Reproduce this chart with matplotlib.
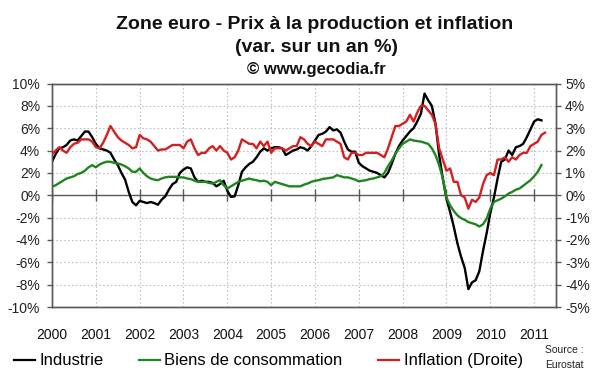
import matplotlib
matplotlib.use('Agg')
import matplotlib.pyplot as plt
import numpy as np
from matplotlib.ticker import FuncFormatter
from matplotlib.lines import Line2D

plt.rcParams['font.family'] = ['Liberation Sans', 'DejaVu Sans']

# ---- data (monthly, from Jan 2000) ----
industrie = [
    3.0, 3.7, 4.2, 4.3, 4.5, 4.9, 5.0, 4.9, 5.3, 5.7, 5.7, 5.2,
    4.6, 4.2, 4.1, 4.0, 3.8, 3.2, 2.7, 2.0, 1.4, 0.3, -0.6, -0.9,
    -0.5, -0.6, -0.7, -0.6, -0.7, -0.85, -0.4, -0.1, 0.5, 1.0, 1.2, 2.0,
    2.3, 2.5, 2.4, 1.6, 1.2, 1.3, 1.2, 1.2, 1.1, 0.8, 1.0, 1.3,
    0.4, -0.15, -0.1, 0.9, 2.1, 2.5, 2.8, 3.0, 3.4, 3.9, 4.2, 4.0,
    4.2, 4.3, 4.3, 4.2, 3.6, 3.8, 4.0, 4.1, 4.3, 4.2, 4.0, 4.4,
    4.9, 5.4, 5.5, 5.7, 6.1, 5.8, 5.9, 5.6, 4.8, 4.1, 3.9, 3.9,
    2.9, 2.6, 2.4, 2.2, 2.1, 2.0, 1.8, 1.6, 2.0, 2.8, 3.7, 4.4,
    4.9, 5.3, 5.7, 6.0, 6.6, 7.3, 9.1, 8.5, 8.0, 6.4, 3.6, 1.5,
    -0.3, -1.5, -2.8, -4.3, -5.5, -6.5, -8.4, -7.8, -7.6, -6.8, -5.0, -3.4,
    -1.6, -0.2, 1.5, 3.0, 3.2, 4.0, 3.6, 4.3, 4.4, 4.6, 5.2, 5.9,
    6.6, 6.8, 6.7,
]
biens_conso = [
    0.75, 0.9, 1.1, 1.3, 1.5, 1.6, 1.7, 1.9, 2.0, 2.2, 2.5, 2.7,
    2.5, 2.75, 2.9, 3.0, 3.0, 2.9, 2.85, 2.75, 2.6, 2.4, 2.1, 2.1,
    2.4, 2.0, 1.7, 1.5, 1.4, 1.35, 1.5, 1.6, 1.65, 1.65, 1.65, 1.6,
    1.6, 1.5, 1.45, 1.3, 1.2, 1.2, 1.2, 1.1, 1.05, 1.2, 1.35, 0.9,
    0.6, 0.8, 1.0, 1.2, 1.3, 1.4, 1.5, 1.4, 1.35, 1.25, 1.3, 1.2,
    0.9, 1.2, 1.1, 1.0, 0.9, 0.8, 0.8, 0.8, 0.8, 0.95, 1.05, 1.2,
    1.3, 1.35, 1.45, 1.5, 1.55, 1.6, 1.8, 1.7, 1.6, 1.6, 1.5, 1.4,
    1.25, 1.3, 1.35, 1.45, 1.5, 1.6, 1.7, 2.0, 2.6, 3.1, 3.7, 4.2,
    4.6, 4.8, 5.0, 4.9, 4.85, 4.8, 4.7, 4.6, 4.2, 3.6, 2.7, 1.5,
    -0.2, -0.9, -1.4, -1.8, -2.05, -2.2, -2.4, -2.5, -2.6, -2.8, -2.6, -2.1,
    -1.2, -0.6, -0.45, -0.3, -0.1, 0.15, 0.3, 0.5, 0.6, 0.85, 1.1, 1.35,
    1.7, 2.1, 2.7,
]
inflation = [
    1.85, 2.0, 2.15, 2.0, 1.9, 2.15, 2.3, 2.35, 2.5, 2.5, 2.5, 2.4,
    2.15, 2.1, 2.35, 2.7, 3.1, 2.85, 2.6, 2.45, 2.35, 2.25, 2.1, 2.15,
    2.7, 2.55, 2.5, 2.4, 2.2, 2.0, 2.05, 2.05, 2.15, 2.25, 2.25, 2.25,
    2.1, 2.4, 2.5, 2.1, 1.8, 1.9, 1.9, 2.1, 2.2, 2.0, 2.2, 2.0,
    1.9, 1.6, 1.7, 2.0, 2.5, 2.4, 2.3, 2.3, 2.1, 2.4, 2.2, 2.4,
    1.9, 2.1, 2.1, 2.1, 2.0, 2.1, 2.2, 2.2, 2.6, 2.5, 2.3, 2.2,
    2.4, 2.3, 2.2, 2.5, 2.5, 2.5, 2.4, 2.3, 1.7, 1.6, 1.9, 1.9,
    1.8, 1.8, 1.9, 1.9, 1.9, 1.9, 1.8, 1.7, 2.1, 2.6, 3.1, 3.1,
    3.2, 3.3, 3.6, 3.3, 3.7, 4.0, 4.0, 3.8, 3.6, 3.2, 2.1, 1.6,
    1.1, 1.2, 0.6, 0.6, 0.0, -0.1, -0.6, -0.2, -0.3, -0.1, 0.5, 0.9,
    1.0, 0.9, 1.6, 1.6, 1.7, 1.5, 1.7, 1.6, 1.8, 1.9, 1.9, 2.2,
    2.3, 2.4, 2.7, 2.8,
]
start_year = 2000
years = list(range(2000, 2012))
left_ticks = list(range(-10, 11, 2))
right_ticks = list(range(-5, 6))

title1 = "Zone euro - Prix à la production et inflation"
title2 = "(var. sur un an %)"
title3 = "© www.gecodia.fr"

# x positions: decimal years for each month
x_ind = start_year + np.arange(len(industrie)) / 12.0
x_bc = start_year + np.arange(len(biens_conso)) / 12.0
x_inf = start_year + np.arange(len(inflation)) / 12.0

c_black = '#000000'
c_green = '#1f861f'
c_red = '#D42020'
c_axis = '#5a5a5a'
c_grid = '#c0c0c0'

fig = plt.figure(figsize=(6, 3.72), dpi=100)
ax = fig.add_axes([0.0867, 0.1747, 0.84, 0.6008])
ax2 = ax.twinx()

ax.set_xlim(2000, 2011.5)
ax.set_ylim(-10, 10)
ax2.set_ylim(-5, 5)

# grid
ax.set_yticks(left_ticks)
ax.set_xticks(years)
ax.grid(True, linestyle=(0, (1.5, 2)), color=c_grid, linewidth=0.8)
ax.set_axisbelow(True)

# zero line with year ticks
ax.axhline(0, color=c_axis, lw=1.0, zorder=1)
ax.plot(years, [0] * len(years), ls='none', marker='|', markersize=8,
        markeredgewidth=1.0, color=c_axis, zorder=1)

ax.plot(x_ind, industrie, color=c_black, lw=1.7, zorder=3)
ax.plot(x_bc, biens_conso, color=c_green, lw=1.7, zorder=3)
ax2.plot(x_inf, inflation, color=c_red, lw=1.7, zorder=3)

pct = FuncFormatter(lambda v, p: f"{int(round(v))}%")
ax.yaxis.set_major_formatter(pct)
ax2.set_yticks(right_ticks)
ax2.yaxis.set_major_formatter(pct)

for a in (ax, ax2):
    for s in a.spines.values():
        s.set_color(c_axis)
        s.set_linewidth(1.0)

ax.tick_params(axis='y', direction='out', length=3.5, width=1.0, color=c_axis,
               labelsize=10, pad=5, labelcolor='#222222')
ax2.tick_params(axis='y', direction='out', length=3.5, width=1.0, color=c_axis,
                labelsize=10, pad=3, labelcolor='#222222')
ax.tick_params(axis='x', length=0, labelsize=10, pad=15, labelcolor='#111111')
ax.set_xticklabels([str(y) for y in years])

# titles
fig.text(0.525, 0.935, title1, ha='center', va='center', fontsize=14,
         fontweight='bold', color='#111111')
fig.text(0.528, 0.872, title2, ha='center', va='center', fontsize=14,
         fontweight='bold', color='#111111')
fig.text(0.528, 0.812, title3, ha='center', va='center', fontsize=12,
         fontweight='bold', color='#111111')

handles = [Line2D([], [], color=c_black, lw=1.6),
           Line2D([], [], color=c_green, lw=1.6),
           Line2D([], [], color=c_red, lw=1.6)]
labels = ["Industrie", "Biens de consommation", "Inflation (Droite)"]
fig.legend(handles, labels, loc='center', bbox_to_anchor=(0.447, 0.03),
           ncol=3, frameon=False, fontsize=12, handlelength=1.3,
           handletextpad=0.25, columnspacing=2.1, borderpad=0, borderaxespad=0)

fig.text(0.909, 0.059, "Source :", ha='left', va='center', fontsize=7.5, color='#222222')
fig.text(0.908, 0.019, "Eurostat", ha='left', va='center', fontsize=7.5, color='#222222')

fig.savefig('out.png', dpi=100)
